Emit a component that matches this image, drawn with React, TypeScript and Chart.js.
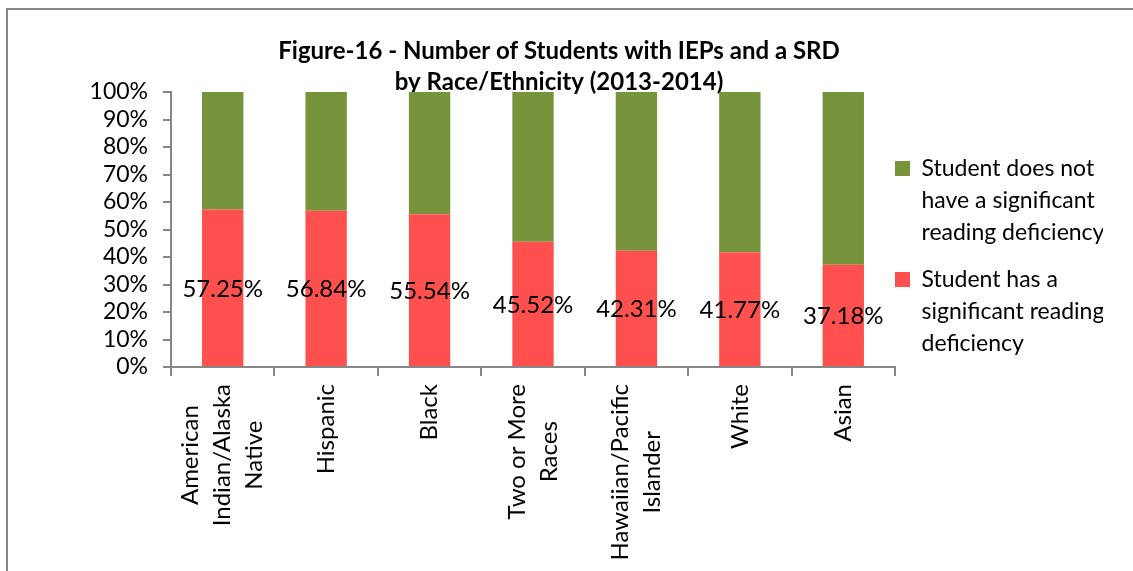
import React, { useEffect, useRef } from 'react';
import { Chart, registerables, CategoryScale } from 'chart.js';

Chart.register(...registerables);

// ---------- data ----------
const titleLines = ['Figure-16 - Number of Students with IEPs and a SRD', 'by Race/Ethnicity (2013-2014)'];
const categories: (string | string[])[] = [
  ['American', 'Indian/Alaska', 'Native'],
  'Hispanic',
  'Black',
  ['Two or More', 'Races'],
  ['Hawaiian/Pacific', 'Islander'],
  'White',
  'Asian',
];
const hasSRD = [57.25, 56.84, 55.54, 45.52, 42.31, 41.77, 37.18];
const noSRD = [42.75, 43.16, 44.46, 54.48, 57.69, 58.23, 62.82];
const seriesNames = ['Student has a significant reading deficiency', 'Student does not have a significant reading deficiency'];
const legendLines = [
  ['Student has a', 'significant reading', 'deficiency'],
  ['Student does not', 'have a significant', 'reading deficiency'],
];
const yTickLabels = ['0%', '10%', '20%', '30%', '40%', '50%', '60%', '70%', '80%', '90%', '100%'];

// ---------- styles ----------
const RED = '#FF5050';
const GREEN = '#77933C';
const AXIS = '#868686';
const FONT = 'Lato';

class CenteredCategoryScale extends CategoryScale {
  static id = 'centeredCategory';
  _computeLabelItems(chartArea: any) {
    const items = (super._computeLabelItems as any)(chartArea);
    const ctx = (this as any).ctx;
    const opts: any = (this as any).options;
    const top = (this as any).top + opts.grid.tickLength + opts.ticks.padding;
    return items.map((item: any, i: number) => {
      const lines = Array.isArray(item.label) ? item.label : [item.label];
      ctx.save();
      ctx.font = item.font.string;
      const maxW = Math.max(...lines.map((l: string) => ctx.measureText(l).width));
      ctx.restore();
      return {
        ...item,
        textOffset: -((lines.length - 1) * item.font.lineHeight) / 2,
        options: {
          ...item.options,
          textAlign: 'center',
          textBaseline: 'middle',
          translation: [(this as any).getPixelForTick(i), top + maxW / 2],
        },
      };
    });
  }
}
Chart.register(CenteredCategoryScale as any);

const barValueLabels = {
  id: 'barValueLabels',
  afterDatasetsDraw(chart: any) {
    const meta = chart.getDatasetMeta(0);
    const values = chart.data.datasets[0].data;
    const ctx = chart.ctx;
    ctx.save();
    ctx.font = `24px ${FONT}`;
    ctx.fillStyle = '#000';
    ctx.textAlign = 'center';
    ctx.textBaseline = 'middle';
    meta.data.forEach((bar: any, i: number) => {
      const { x, y, base } = bar.getProps(['x', 'y', 'base'], true);
      ctx.fillText(`${Number(values[i]).toFixed(2)}%`, x, (y + base) / 2 + 1);
    });
    ctx.restore();
  },
};

const LEGEND_ITEM_TOP = 65; // first legend item top, relative to plot top
const legendPlacement = {
  id: 'legendPlacement',
  afterLayout(chart: any) {
    const lg = chart.legend;
    if (!lg) return;
    const pad = lg.options.labels.padding;
    const dx = chart.chartArea.right - pad - lg.left;
    const dy = chart.chartArea.top + LEGEND_ITEM_TOP - pad - lg.top;
    lg.left += dx;
    lg.right += dx;
    lg.top += dy;
    lg.bottom += dy;
  },
};

export default function App() {
  const ref = useRef<HTMLCanvasElement>(null);
  useEffect(() => {
    let chart: any = null;
    let cancelled = false;
    const make = () => {
      if (cancelled || !ref.current) return;
      Chart.defaults.font.family = FONT;
      chart = new Chart(ref.current, {
        type: 'bar',
        data: {
          labels: categories as any,
          datasets: [
            { label: seriesNames[0], data: hasSRD, backgroundColor: RED, borderWidth: 0, barPercentage: 0.4, categoryPercentage: 1.0 },
            { label: seriesNames[1], data: noSRD, backgroundColor: GREEN, borderWidth: 0, barPercentage: 0.4, categoryPercentage: 1.0 },
          ],
        },
        options: {
          responsive: false,
          animation: false,
          layout: { padding: { top: 0, left: 0, right: 15, bottom: 0 } },
          plugins: {
            tooltip: { enabled: false },
            title: {
              display: true,
              text: titleLines,
              color: '#000',
              font: { family: FONT, size: 24, weight: 'bold', lineHeight: '31px' },
              padding: { top: 36, bottom: -6 },
            },
            legend: {
              position: 'right',
              align: 'start',
              reverse: true,
              maxWidth: 223,
              labels: {
                boxWidth: 15,
                boxHeight: 15,
                padding: 15,
                color: '#000',
                font: { family: FONT, size: 23, lineHeight: '32px' },
                generateLabels: (c: any) =>
                  (Chart.defaults.plugins.legend.labels.generateLabels as any)(c).map((it: any) => ({
                    ...it,
                    text: legendLines[it.datasetIndex],
                  })),
              },
            },
          },
          scales: {
            x: {
              type: 'centeredCategory' as any,
              stacked: true,
              offset: true,
              grid: { offset: true, drawOnChartArea: false, drawTicks: true, tickLength: 9, color: AXIS, lineWidth: 2 },
              border: { display: true, color: AXIS, width: 2 },
              ticks: {
                minRotation: 90,
                maxRotation: 90,
                autoSkip: false,
                padding: 8,
                color: '#000',
                font: { family: FONT, size: 24, lineHeight: '32px' },
              },
              afterFit: (s: any) => {
                s.height = 204;
              },
            },
            y: {
              stacked: true,
              min: 0,
              max: 100,
              grid: { drawOnChartArea: false, drawTicks: true, tickLength: 8, color: AXIS, lineWidth: 2 },
              border: { display: true, color: AXIS, width: 2 },
              ticks: {
                stepSize: 10,
                autoSkip: false,
                padding: 15,
                color: '#000',
                font: { family: FONT, size: 23 },
                callback: (_v: any, i: number) => yTickLabels[i],
              },
              afterFit: (s: any) => {
                s.width = 171;
              },
            },
          },
        },
        plugins: [barValueLabels, legendPlacement],
      } as any);
    };
    const loads = [
      document.fonts.load(`bold 24px ${FONT}`),
      document.fonts.load(`24px ${FONT}`),
    ];
    Promise.all(loads).then(make, make);
    return () => {
      cancelled = true;
      if (chart) chart.destroy();
    };
  }, []);

  return (
    <div style={{ position: 'absolute', left: 0, top: 0, width: 1133, height: 571, background: '#fff', overflow: 'hidden' }}>
      <canvas ref={ref} width={1133} height={571} style={{ display: 'block' }} />
      <div
        style={{
          position: 'absolute',
          left: 6,
          top: 8,
          right: 0,
          bottom: 0,
          borderLeft: `2px solid ${AXIS}`,
          borderTop: `2px solid ${AXIS}`,
          pointerEvents: 'none',
        }}
      />
    </div>
  );
}
